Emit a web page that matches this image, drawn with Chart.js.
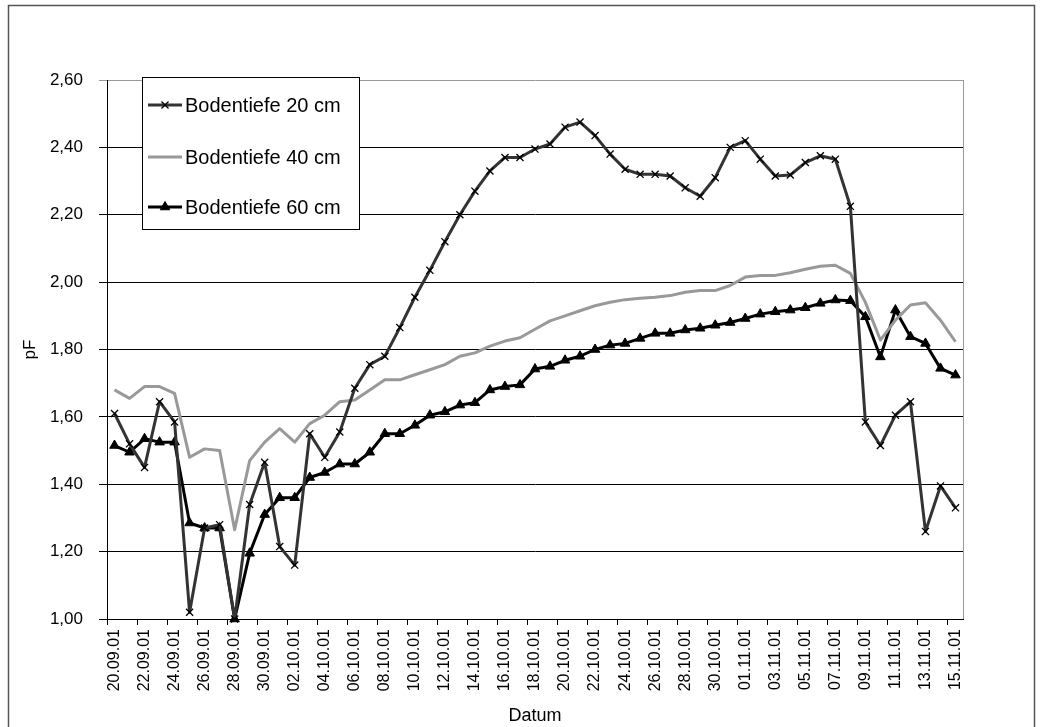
<!DOCTYPE html>
<html>
<head>
<meta charset="utf-8">
<title>pF Bodentiefe</title>
<script src="https://cdn.jsdelivr.net/npm/chart.js@4.4.0/dist/chart.umd.min.js"></script>
<style>
    body { margin: 0; background: #fff; }
    #pfChart { display: block; }
</style>
</head>
<body>
<canvas id="pfChart" width="1042" height="727"></canvas>
<script>
const dates = [
    '20.09.01', '21.09.01', '22.09.01', '23.09.01', '24.09.01', '25.09.01', '26.09.01', '27.09.01', '28.09.01', '29.09.01', '30.09.01',
    '01.10.01', '02.10.01', '03.10.01', '04.10.01', '05.10.01', '06.10.01', '07.10.01', '08.10.01', '09.10.01', '10.10.01',
    '11.10.01', '12.10.01', '13.10.01', '14.10.01', '15.10.01', '16.10.01', '17.10.01', '18.10.01', '19.10.01', '20.10.01',
    '21.10.01', '22.10.01', '23.10.01', '24.10.01', '25.10.01', '26.10.01', '27.10.01', '28.10.01', '29.10.01', '30.10.01', '31.10.01',
    '01.11.01', '02.11.01', '03.11.01', '04.11.01', '05.11.01', '06.11.01', '07.11.01', '08.11.01', '09.11.01', '10.11.01',
    '11.11.01', '12.11.01', '13.11.01', '14.11.01', '15.11.01'
];

const depth20 = [
    1.61, 1.52, 1.45, 1.645, 1.585, 1.02, 1.27, 1.28, 1.00, 1.34, 1.465,
    1.215, 1.16, 1.55, 1.48, 1.555, 1.685, 1.755, 1.78, 1.865, 1.955,
    2.035, 2.12, 2.20, 2.27, 2.33, 2.37, 2.37, 2.395, 2.41, 2.46,
    2.475, 2.435, 2.38, 2.335, 2.32, 2.32, 2.315, 2.28, 2.255, 2.31, 2.40,
    2.42, 2.365, 2.315, 2.318, 2.355, 2.375, 2.365, 2.225, 1.585, 1.515,
    1.605, 1.645, 1.26, 1.395, 1.33
];

const depth40 = [
    1.68, 1.655, 1.69, 1.69, 1.67, 1.48, 1.505, 1.50, 1.265, 1.47, 1.525,
    1.565, 1.525, 1.58, 1.605, 1.645, 1.65, 1.68, 1.71, 1.71, 1.725,
    1.74, 1.755, 1.78, 1.79, 1.81, 1.825, 1.835, 1.86, 1.885, 1.90,
    1.915, 1.93, 1.94, 1.948, 1.952, 1.955, 1.96, 1.97, 1.975, 1.975, 1.99,
    2.015, 2.02, 2.02, 2.028, 2.038, 2.047, 2.05, 2.026, 1.94, 1.828,
    1.887, 1.932, 1.939, 1.887, 1.823
];

const depth60 = [
    1.515, 1.495, 1.535, 1.525, 1.525, 1.285, 1.27, 1.27, 1.00, 1.195, 1.31,
    1.36, 1.36, 1.42, 1.435, 1.46, 1.46, 1.495, 1.55, 1.55, 1.575,
    1.605, 1.615, 1.635, 1.642, 1.68, 1.69, 1.695, 1.742, 1.75, 1.768,
    1.78, 1.80, 1.813, 1.818, 1.833, 1.848, 1.848, 1.858, 1.863, 1.872, 1.88,
    1.892, 1.905, 1.912, 1.917, 1.924, 1.937, 1.947, 1.945, 1.897, 1.778,
    1.917, 1.838, 1.818, 1.744, 1.724
];

const seriesNames = ['Bodentiefe 20 cm', 'Bodentiefe 40 cm', 'Bodentiefe 60 cm'];

const FONT = '"Liberation Sans", Arial, sans-serif';

// frame, plot border and the boxed legend inside the plot (like the Excel original)
const framePlugin = {
    id: 'frame',
    beforeDatasetsDraw(chart) {
        const c = chart.ctx;
        const a = chart.chartArea;
        c.save();
        c.strokeStyle = '#999';
        c.lineWidth = 1;
        c.beginPath();
        c.moveTo(a.right + 0.5, a.top);
        c.lineTo(a.right + 0.5, a.bottom);
        c.stroke();
        c.restore();
    },
    afterDraw(chart) {
        const c = chart.ctx;
        c.save();
        c.strokeStyle = '#555';
        c.lineWidth = 1.5;
        c.strokeRect(8.5, 5.5, 1026, 740);

        // legend box
        c.fillStyle = '#fff';
        c.fillRect(142, 77, 217, 152);
        c.strokeStyle = '#000';
        c.lineWidth = 1;
        c.strokeRect(142.5, 77.5, 217, 152);

        const rows = [105, 157, 207];
        chart.data.datasets.forEach((ds, i) => {
            const y = rows[i];
            c.strokeStyle = ds.borderColor;
            c.lineWidth = ds.borderWidth;
            c.beginPath();
            c.moveTo(148, y);
            c.lineTo(182, y);
            c.stroke();
            if (ds.pointRadius > 0) {
                c.fillStyle = ds.pointBackgroundColor;
                c.strokeStyle = ds.pointBorderColor;
                c.lineWidth = ds.pointBorderWidth;
                Chart.helpers.drawPoint(c, {
                    pointStyle: ds.pointStyle,
                    radius: ds.pointRadius,
                    borderWidth: ds.pointBorderWidth
                }, 165, y);
            }
            c.fillStyle = '#000';
            c.font = '20px ' + FONT;
            c.textBaseline = 'middle';
            c.textAlign = 'left';
            c.fillText(ds.label, 185, y + 1);
        });
        c.restore();
    }
};

const ctx = document.getElementById('pfChart').getContext('2d');
const pfChart = new Chart(ctx, {
    type: 'line',
    data: {
        labels: dates,
        datasets: [
            {
                label: seriesNames[0],
                data: depth20,
                borderColor: '#333333',
                borderWidth: 3,
                pointStyle: 'crossRot',
                pointRadius: 5,
                pointBorderWidth: 1.3,
                pointBorderColor: '#000',
                pointBackgroundColor: '#000',
                tension: 0,
                clip: false
            },
            {
                label: seriesNames[1],
                data: depth40,
                borderColor: '#999999',
                borderWidth: 3,
                pointRadius: 0,
                tension: 0,
                clip: false
            },
            {
                label: seriesNames[2],
                data: depth60,
                borderColor: '#000000',
                borderWidth: 3,
                pointStyle: 'triangle',
                pointRadius: 5.5,
                pointBorderWidth: 1,
                pointBorderColor: '#000',
                pointBackgroundColor: '#000',
                tension: 0,
                clip: false
            }
        ]
    },
    options: {
        responsive: false,
        animation: false,
        borderJoinStyle: 'round',
        layout: {
            padding: { top: 80, right: 79, left: 0, bottom: 0 }
        },
        plugins: {
            legend: { display: false },
            tooltip: { enabled: false }
        },
        scales: {
            x: {
                type: 'category',
                offset: true,
                afterFit: (scale) => { scale.height = 108; },
                border: { color: '#000', width: 1 },
                grid: {
                    offset: true,
                    drawOnChartArea: false,
                    drawTicks: true,
                    tickLength: 6,
                    color: (c) => (c.index % 2 === 0 ? '#000' : 'rgba(0,0,0,0)')
                },
                ticks: {
                    autoSkip: false,
                    minRotation: 90,
                    maxRotation: 90,
                    padding: 4,
                    color: '#000',
                    font: { family: FONT, size: 16 },
                    callback: function (value, index) {
                        return index % 2 === 0 ? this.getLabelForValue(value) : '';
                    }
                },
                title: {
                    display: true,
                    text: 'Datum',
                    color: '#000',
                    font: { family: FONT, size: 18, lineHeight: 1.2 },
                    padding: { top: 0, bottom: 0 }
                }
            },
            y: {
                min: 1.0,
                max: 2.6,
                afterFit: (scale) => { scale.width = 107; },
                border: { color: '#000', width: 1 },
                grid: {
                    color: (c) => (c.tick && Math.abs(c.tick.value - 2.6) < 0.001 ? '#999' : '#000'),
                    lineWidth: 1,
                    drawTicks: true,
                    tickLength: 8
                },
                ticks: {
                    stepSize: 0.2,
                    padding: 16,
                    color: '#000',
                    font: { family: FONT, size: 17 },
                    callback: (v) => v.toFixed(2).replace('.', ',')
                },
                title: {
                    display: true,
                    text: 'pF',
                    color: '#000',
                    font: { family: FONT, size: 17, lineHeight: 1.2 },
                    padding: { top: 20, bottom: 20 }
                }
            }
        }
    },
    plugins: [framePlugin]
});
</script>
</body>
</html>
